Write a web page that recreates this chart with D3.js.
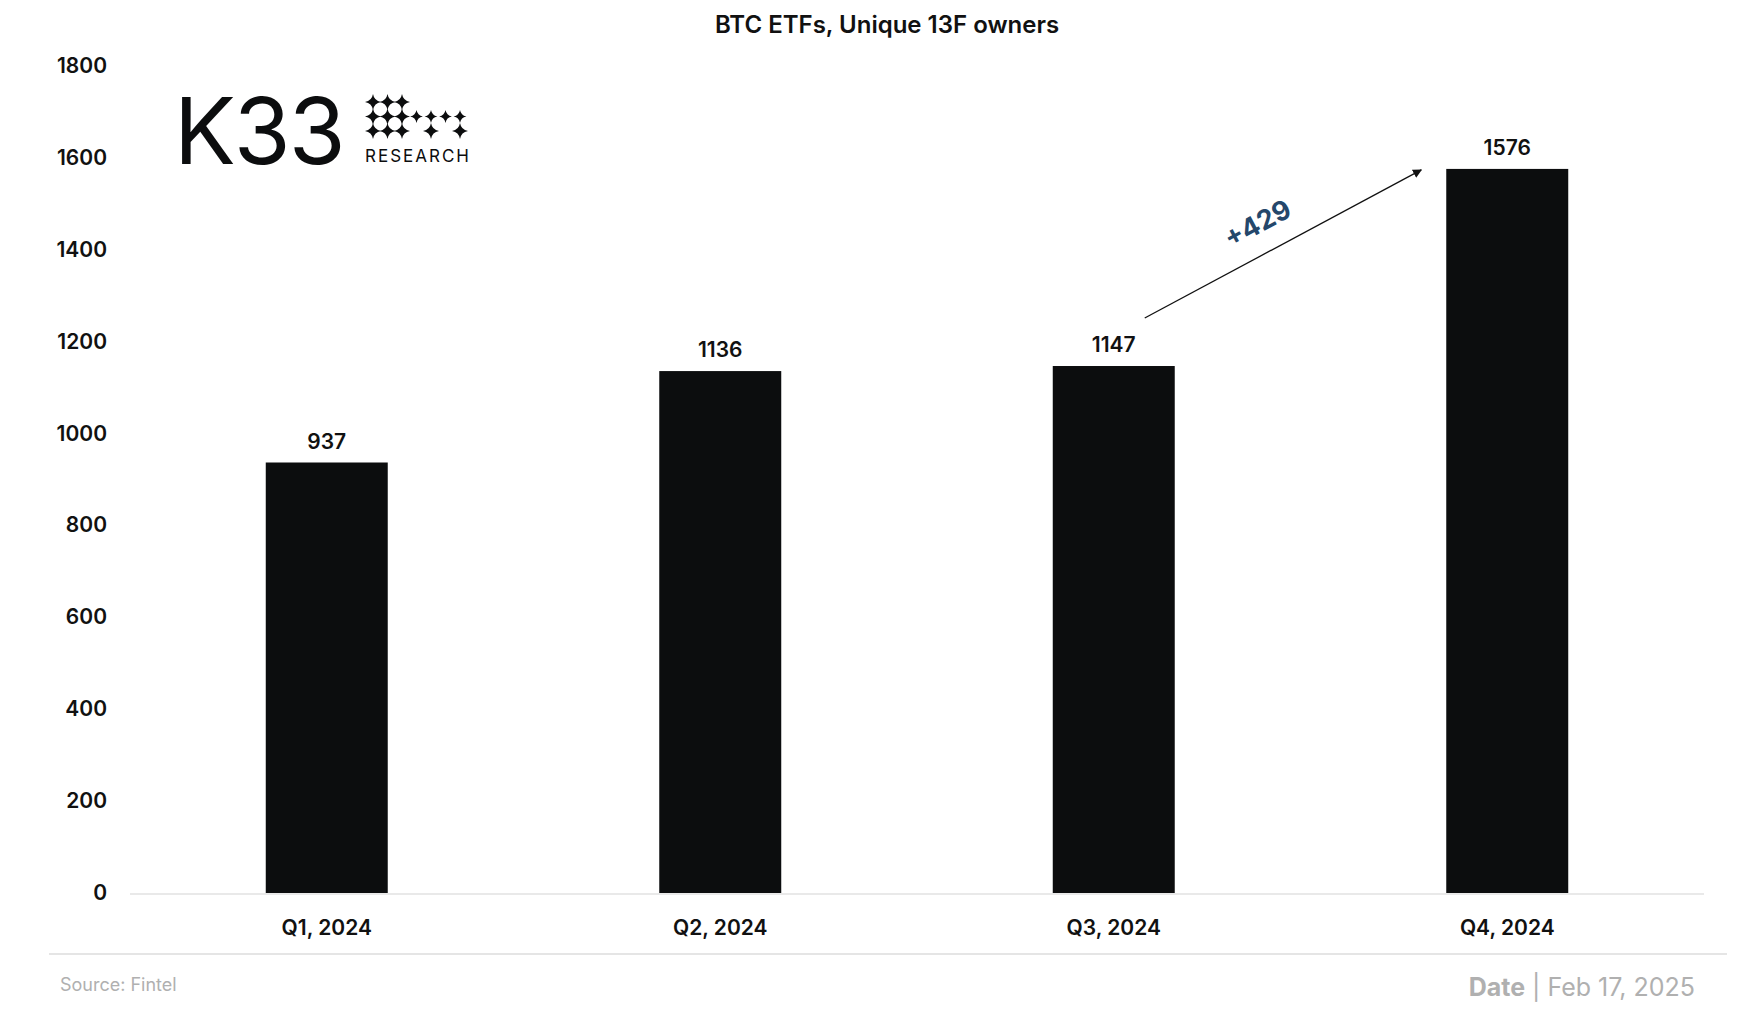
<!DOCTYPE html>
<html>
<head>
<meta charset="utf-8">
<script src="https://cdn.jsdelivr.net/npm/d3@7"></script>
<style>
  body { margin: 0; background: #fff; }
  text { font-family: Inter, "Open Sans", sans-serif; }
</style>
</head>
<body>
<svg id="chart" width="1744" height="1036"></svg>
<script>
const quarters = ["Q1, 2024", "Q2, 2024", "Q3, 2024", "Q4, 2024"];
const owners = [937, 1136, 1147, 1576];
const yTicks = [0, 200, 400, 600, 800, 1000, 1200, 1400, 1600, 1800];

const svg = d3.select("#chart");
const margin = { top: 66, left: 130, right: 40, bottom: 143 };
const W = 1744, H = 1036;

const x = d3.scaleBand()
    .domain(quarters)
    .range([margin.left, W - margin.right])
    .paddingInner(0.69)
    .paddingOuter(0.345);

const y = d3.scaleLinear()
    .domain([0, 1800])
    .range([H - margin.bottom, margin.top]);

// title
svg.append("text")
    .attr("x", 887).attr("y", 33)
    .attr("text-anchor", "middle")
    .attr("font-size", 24).attr("font-weight", 600)
    .attr("fill", "#111")
    .text("BTC ETFs, Unique 13F owners");

// y axis labels
svg.append("g").selectAll("text")
    .data(yTicks).enter().append("text")
    .attr("x", 107).attr("y", d => y(d) + 7)
    .attr("text-anchor", "end")
    .attr("font-size", 21).attr("font-weight", 600)
    .attr("fill", "#111")
    .text(d => d);

// bars
svg.selectAll(".bar")
    .data(owners).enter().append("rect")
    .attr("class", "bar")
    .attr("x", (d, i) => x(quarters[i]))
    .attr("y", d => y(d))
    .attr("width", x.bandwidth())
    .attr("height", d => y(0) - y(d))
    .attr("fill", "#0c0d0e");

// value labels
svg.selectAll(".val")
    .data(owners).enter().append("text")
    .attr("x", (d, i) => x(quarters[i]) + x.bandwidth() / 2)
    .attr("y", d => y(d) - 14)
    .attr("text-anchor", "middle")
    .attr("font-size", 21).attr("font-weight", 600)
    .attr("fill", "#111")
    .text(d => d);

// baseline
svg.append("line")
    .attr("x1", margin.left).attr("x2", W - margin.right)
    .attr("y1", y(0) + 1).attr("y2", y(0) + 1)
    .attr("stroke", "#e2e2e2").attr("stroke-width", 1.5);

// x labels
svg.append("g").selectAll("text")
    .data(quarters).enter().append("text")
    .attr("x", d => x(d) + x.bandwidth() / 2)
    .attr("y", 935)
    .attr("text-anchor", "middle")
    .attr("font-size", 21).attr("font-weight", 600)
    .attr("fill", "#111")
    .text(d => d);

// growth arrow Q3 -> Q4
svg.append("defs").append("marker")
    .attr("id", "arr").attr("viewBox", "0 0 10 10")
    .attr("refX", 9).attr("refY", 5)
    .attr("markerWidth", 7).attr("markerHeight", 7)
    .attr("orient", "auto")
    .append("path").attr("d", "M0,0L10,5L0,10z").attr("fill", "#111");

const ax1 = x(quarters[2]) + x.bandwidth() - 30, ay1 = y(owners[2]) - 48;
const ax2 = x(quarters[3]) - 25, ay2 = y(owners[3]) + 1;
svg.append("line")
    .attr("x1", ax1).attr("y1", ay1).attr("x2", ax2).attr("y2", ay2)
    .attr("stroke", "#111").attr("stroke-width", 1.3)
    .attr("marker-end", "url(#arr)");

const ang = Math.atan2(ay2 - ay1, ax2 - ax1) * 180 / Math.PI;
svg.append("text")
    .attr("transform", `translate(1262,232) rotate(${ang})`)
    .attr("text-anchor", "middle")
    .attr("font-size", 27).attr("font-weight", 700)
    .attr("fill", "#24476b")
    .text("+" + (owners[3] - owners[2]));

// logo
const logo = svg.append("g");
logo.append("text")
    .attr("x", 174).attr("y", 164)
    .attr("font-size", 92).attr("font-weight", 400)
    .attr("fill", "#0c0d0e")
    .attr("letter-spacing", -2)
    .text("K33");
logo.append("text")
    .attr("x", 365).attr("y", 162)
    .attr("font-size", 17).attr("letter-spacing", 2)
    .attr("fill", "#0c0d0e")
    .text("RESEARCH");
const stars = [
    [0, 0, 1], [1, 0, 1], [2, 0, 1],
    [0, 1, 1], [1, 1, 1], [2, 1, 1], [3, 1, 0.8], [4, 1, 0.8], [5, 1, 0.8], [6, 1, 0.8],
    [0, 2, 1], [1, 2, 1], [2, 2, 1], [4, 2, 1], [6, 2, 1]
];
const star = r => `M0,${-r}Q${r * 0.15},${-r * 0.15} ${r},0Q${r * 0.15},${r * 0.15} 0,${r}Q${-r * 0.15},${r * 0.15} ${-r},0Q${-r * 0.15},${-r * 0.15} 0,${-r}z`;
logo.selectAll("path").data(stars).enter().append("path")
    .attr("transform", d => `translate(${373 + d[0] * 14.5},${102 + d[1] * 14.5})`)
    .attr("d", d => star(8 * d[2]))
    .attr("fill", "#0c0d0e");

// footer
svg.append("line")
    .attr("x1", 49).attr("x2", 1727).attr("y1", 954).attr("y2", 954)
    .attr("stroke", "#dcdcdc").attr("stroke-width", 1.5);
svg.append("text")
    .attr("x", 60).attr("y", 991)
    .attr("font-size", 18).attr("fill", "#b0b0b0")
    .text("Source: Fintel");
const foot = svg.append("text")
    .attr("x", 1695).attr("y", 996)
    .attr("text-anchor", "end")
    .attr("font-size", 25).attr("fill", "#b0b0b0");
foot.append("tspan").attr("font-weight", 700).text("Date");
foot.append("tspan").text(" | Feb 17, 2025");
</script>
</body>
</html>
